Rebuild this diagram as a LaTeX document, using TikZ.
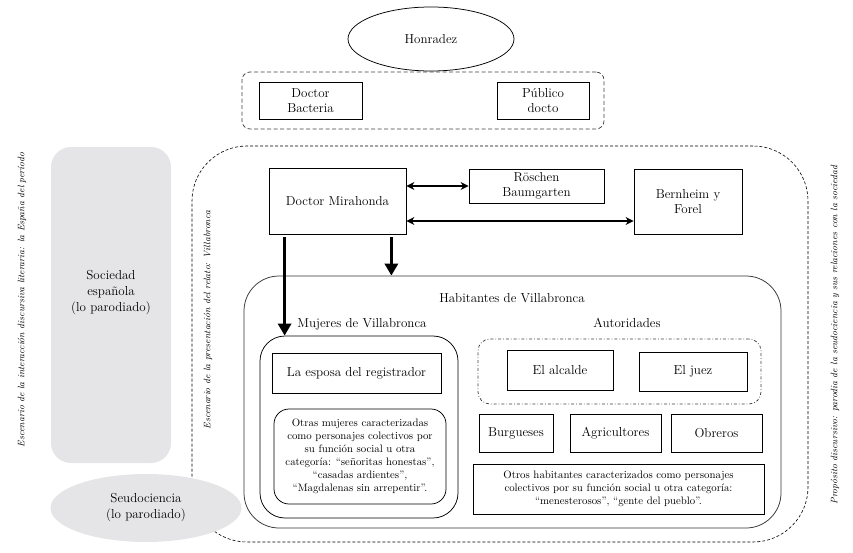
\documentclass[tikz,border=0pt]{standalone}
\usepackage{tikz}
\usetikzlibrary{shapes.geometric, arrows.meta}
\definecolor{sidegray}{RGB}{229,229,231}
\tikzstyle{box} = [draw, rectangle, align=center, inner sep=2pt, font=\fontsize{13}{15}\selectfont]
\tikzstyle{smallbox} = [draw, rectangle, align=center, inner sep=2pt, font=\fontsize{10.8}{13}\selectfont]
\tikzstyle{group} = [draw, rectangle, inner sep=0pt]
\tikzstyle{label} = [align=center, inner sep=1pt, font=\fontsize{13}{16}\selectfont]
\tikzstyle{side} = [rotate=90, inner sep=0pt, font=\fontsize{9.4}{11}\selectfont\itshape]
\tikzstyle{dblarrow} = [line width=1.4pt, {Stealth[length=8pt,width=8pt]}-{Stealth[length=8pt,width=8pt]}]
\tikzstyle{bigarrow} = [line width=3.5pt, -{Triangle[length=12pt,width=13pt]}]

\begin{document}
\begin{tikzpicture}[x=1pt, y=-1pt, line width=0.75pt]
        \useasboundingbox (0,0) rectangle (853,553);

        % Outer scenes
        \node[group, line width=0.6pt, dash pattern=on 3pt off 2pt, rounded corners=55pt, minimum width=616pt, minimum height=396pt] (scene) at (500,344) {};
        \node[group, draw=none, fill=sidegray, rounded corners=20pt, minimum width=120pt, minimum height=316pt] (sociedadbox) at (111,305) {};
        \node[label] (sociedad) at (111,293) {Sociedad\\espa\~nola\\(lo parodiado)};
        \node[ellipse, fill=sidegray, minimum width=191pt, minimum height=68pt, inner sep=0pt, align=center, font=\fontsize{13}{16}\selectfont] (seudociencia) at (146,508) {Seudociencia\\(lo parodiado)};

        \node[side] (literaria) at (22,300) {Escenario de la interacci\'on discursiva literaria: la Espa\~na del per\'iodo};
        \node[side] (relato) at (208,320) {Escenario de la presentaci\'on del relato: Villabronca};
        \node[side] (proposito) at (835,335) {Prop\'osito discursivo: parodia de la seudociencia y sus relaciones con la sociedad};

        % Top
        \node[ellipse, draw, minimum width=166pt, minimum height=64pt, inner sep=0pt, font=\fontsize{13}{15}\selectfont] (honradez) at (431,39) {Honradez};
        \node[group, dash pattern=on 4pt off 2.5pt, draw=black!75, rounded corners=8pt, minimum width=362pt, minimum height=57pt] (lectores) at (423,100.5) {};
        \node[box, minimum width=103pt, minimum height=37pt] (bacteria) at (310.5,100.5) {Doctor\\Bacteria};
        \node[box, minimum width=92pt, minimum height=37pt] (publico) at (543,100.5) {P\'ublico\\docto};

        % Characters
        \node[box, minimum width=137pt, minimum height=66pt] (mirahonda) at (337.5,201) {Doctor Mirahonda};
        \node[box, minimum width=135pt, minimum height=34pt] (roschen) at (536.5,186) {R\"oschen\\Baumgarten};
        \node[box, minimum width=108pt, minimum height=65pt] (bernheim) at (688,201.5) {Bernheim y\\Forel};

        % Villabronca
        \node[group, draw=black!80, rounded corners=35pt, minimum width=537pt, minimum height=252pt] (habitantes) at (512.5,402) {};
        \node[label] (habitanteslabel) at (512,298) {Habitantes de Villabronca};

        \node[group, rounded corners=25pt, minimum width=198pt, minimum height=182pt] (mujeres) at (359,427) {};
        \node[label] (mujereslabel) at (362,324) {Mujeres de Villabronca};
        \node[box, minimum width=169pt, minimum height=40pt] (esposa) at (356.5,373) {La esposa del registrador};
        \node[smallbox, rounded corners=15pt, minimum width=172pt, minimum height=95pt] (otras) at (360,456.5) {Otras mujeres caracterizadas\\como personajes colectivos por\\su funci\'on social u otra\\categor\'ia: ``se\~noritas honestas'',\\``casadas ardientes'',\\``Magdalenas sin arrepentir''.};

        \node[label] (autoridadeslabel) at (627,323) {Autoridades};
        \node[group, dash dot, draw=black!75, rounded corners=12pt, minimum width=283pt, minimum height=65pt] (autoridades) at (619.5,371.5) {};
        \node[box, minimum width=106pt, minimum height=40pt] (alcalde) at (560,370) {El alcalde};
        \node[box, minimum width=108pt, minimum height=39pt] (juez) at (693,371.5) {El juez};

        \node[box, minimum width=74pt, minimum height=38pt] (burgueses) at (516,433) {Burgueses};
        \node[box, minimum width=91pt, minimum height=38pt] (agricultores) at (615.5,433) {Agricultores};
        \node[box, minimum width=91pt, minimum height=38pt] (obreros) at (716.5,433) {Obreros};
        \node[smallbox, minimum width=291pt, minimum height=50pt] (otros) at (618.5,489) {Otros habitantes caracterizados como personajes\\colectivos por su funci\'on social u otra categor\'ia:\\``menesterosos'', ``gente del pueblo''.};

        % Arrows
        \draw[dblarrow] (mirahonda.east |- roschen.west) -- (roschen.west);
        \draw[dblarrow] ([yshift=-20pt]mirahonda.east) -- ([yshift=-20pt]mirahonda.east -| bernheim.west);
        \draw[bigarrow] ([xshift=16pt,yshift=-3pt]mirahonda.south west) -- ([xshift=16pt]mirahonda.south west |- mujeres.north);
        \draw[bigarrow] ([xshift=-15pt,yshift=-3pt]mirahonda.south east) -- ([xshift=-15pt]mirahonda.south east |- habitantes.north);
      \end{tikzpicture}
\end{document}
